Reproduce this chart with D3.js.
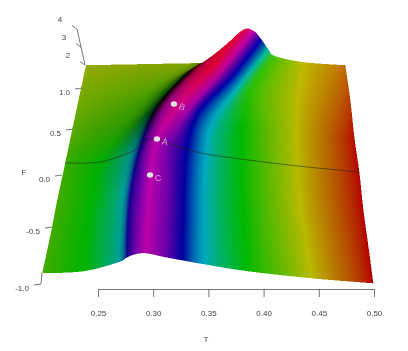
<!DOCTYPE html>
<html><head><meta charset="utf-8">
<script src="https://cdn.jsdelivr.net/npm/d3@7"></script>
<style>html,body{margin:0;padding:0;background:#fff}svg{display:block;filter:blur(.45px)}text{font-family:"Liberation Sans",Arial,sans-serif}</style>
</head><body><svg id="c" width="408" height="351"></svg>
<script>
// Surface: apparent T / F of each colour contour, front row to back row
const surfaceT = [
 [.1993,.2364,.2681,.2763,.2835,.2935,.3107,.3261,.3460,.3859,.4438,.4991],
 [.2065,.2391,.2699,.2772,.2853,.2953,.3116,.3270,.3460,.3822,.4384,.4946],
 [.2129,.2446,.2726,.2808,.2889,.2980,.3134,.3279,.3460,.3804,.4330,.4900],
 [.2201,.2518,.2799,.2889,.2962,.3034,.3152,.3306,.3478,.3795,.4312,.4864],
 [.2264,.2745,.2944,.3034,.3125,.3243,.3333,.3406,.3533,.3804,.4294,.4819],
 [.2328,.2971,.3207,.3297,.3388,.3533,.3623,.3714,.3786,.3877,.4312,.4783],
 [.2391,.3333,.3424,.3469,.3650,.3813,.3904,.3976,.4040,.4103,.4366,.4737]];
const surfaceF = [
 [-.859,-.839,-.749,-.698,-.668,-.658,-.698,-.729,-.769,-.839,-.910,-.960],
 [-.487,-.457,-.367,-.317,-.286,-.276,-.317,-.347,-.387,-.457,-.528,-.588],
 [-.126,-.106,-.015,.045,.095,.106,.065,.015,-.025,-.095,-.156,-.216],
 [.246,.256,.357,.437,.477,.487,.437,.387,.337,.286,.216,.156],
 [.578,.628,.739,.809,.839,.849,.799,.749,.658,.598,.568,.508],
 [.910,.980,1.080,1.141,1.171,1.221,1.181,1.121,1.040,.960,.920,.879],
 [1.231,1.251,1.251,1.271,1.432,1.588,1.578,1.492,1.392,1.322,1.261,1.231]];
const surfaceColors = [
 ["#46aa00","#00b400","#00a096","#14008c","#6e00aa","#be00aa","#6e00aa","#0000a0","#00aabe","#00b900","#b9b900","#b40000"],
 ["#46aa00","#00b400","#00a096","#14008c","#6e00aa","#be00aa","#6e00aa","#0000a0","#00aabe","#00b900","#b9b900","#b40000"],
 ["#46aa00","#00b400","#00a096","#14008c","#6e00aa","#be00aa","#6e00aa","#0000a0","#00aabe","#00b900","#b9b900","#b40000"],
 ["#3caa00","#00af00","#008c82","#0a0078","#780096","#be00aa","#6e00aa","#0000a0","#00aabe","#00b900","#b9b900","#b40000"],
 ["#5aaa00","#289600","#005014","#0a000a","#960082","#d70082","#a000aa","#0000a0","#00aabe","#00b900","#b9b900","#b40a00"],
 ["#78aa00","#50a000","#1e5a00","#000000","#aa003c","#e10032","#be0096","#0000aa","#00b4b4","#28be00","#beb900","#b93c00"],
 ["#96aa00","#82a000","#141400","#a00014","#dc001e","#dc003c","#c800aa","#0000aa","#00be96","#46c300","#beb900","#c36e00"]];
const sliceRow = 3;
const pointNames = ["A","B","C"];
const pointT = [.3034,.3188,.2971];
const pointF = [.487,.839,.126];
const tTicks = [.25,.30,.35,.40,.45,.50];
const fTicks = [-1,-.5,0,.5,1];
const fTickLabels = ["-1.0","-0.5","0.0","0.5","1.0"];
const fTickX = [41,52,62,73,82];
const fTickY = [284,227,175,129,88];
const zTicks = [2,3,4];
const zTickX = [85,81,77];
const zTickY = [65,47,29];

const W=408,H=351,SS=2;
const x=d3.scaleLinear().domain([.25,.5]).range([98,374]);
const y=d3.scaleLinear().domain([-1,1]).range([287,88]);
const fx=d3.scaleLinear().domain(fTicks).range(fTickX);
const fy=d3.scaleLinear().domain(fTicks).range(fTickY);
const zx=d3.scaleLinear().domain(zTicks).range(zTickX);
const zy=d3.scaleLinear().domain(zTicks).range(zTickY);
const svg=d3.select("#c");
const ink="#444";

function cr(a,b,c,d,t){return .5*(2*b+(c-a)*t+(2*a-5*b+4*c-d)*t*t+(3*b-a-3*c+d)*t*t*t);}
function spline(arr,u){
  const n=arr.length-1,i=Math.min(Math.floor(u),n-1),t=u-i;
  return cr(arr[Math.max(i-1,0)],arr[i],arr[i+1],arr[Math.min(i+2,n)],t);
}
function surf(M,r,c){
  const col=M.map(row=>spline(row,c));
  return spline(col,r);
}
const rgbRows=surfaceColors.map(row=>row.map(h=>{const q=d3.rgb(h);return [q.r,q.g,q.b];}));
function color(r,c){
  const nr=rgbRows.length-1,nc=rgbRows[0].length-1;
  const i=Math.min(Math.floor(r),nr-1),t=r-i,j=Math.min(Math.floor(c),nc-1),s=c-j;
  return [0,1,2].map(k=>{
    const a=rgbRows[i][j][k]*(1-s)+rgbRows[i][j+1][k]*s;
    const b=rgbRows[i+1][j][k]*(1-s)+rgbRows[i+1][j+1][k]*s;
    return a*(1-t)+b*t;
  });
}
const P=(r,c)=>[x(surf(surfaceT,r,c)),y(surf(surfaceF,r,c))];
const rs=10,cs=8,nr=surfaceT.length-1,nc=surfaceT[0].length-1;

// Gouraud-shaded surface, painted back to front into one image
const cv=document.createElement("canvas");cv.width=W*SS;cv.height=H*SS;
const g=cv.getContext("2d"),img=g.createImageData(W*SS,H*SS),px=img.data;
function tri(a,b,c){
  const minX=Math.max(0,Math.floor(Math.min(a.x,b.x,c.x))),maxX=Math.min(W*SS-1,Math.ceil(Math.max(a.x,b.x,c.x)));
  const minY=Math.max(0,Math.floor(Math.min(a.y,b.y,c.y))),maxY=Math.min(H*SS-1,Math.ceil(Math.max(a.y,b.y,c.y)));
  const d=(b.y-c.y)*(a.x-c.x)+(c.x-b.x)*(a.y-c.y);
  if(Math.abs(d)<1e-9)return;
  for(let Y=minY;Y<=maxY;Y++)for(let X=minX;X<=maxX;X++){
    const u=((b.y-c.y)*(X-c.x)+(c.x-b.x)*(Y-c.y))/d,v=((c.y-a.y)*(X-c.x)+(a.x-c.x)*(Y-c.y))/d,w=1-u-v;
    if(u<-.02||v<-.02||w<-.02)continue;
    const o=(Y*W*SS+X)*4;
    for(let k=0;k<3;k++)px[o+k]=u*a.col[k]+v*b.col[k]+w*c.col[k];
    px[o+3]=255;
  }
}
const V=(r,c)=>{const p=P(r,c);return {x:p[0]*SS,y:p[1]*SS,col:color(r,c)};};
for(let a=nr*rs-1;a>=0;a--)for(let b=0;b<nc*cs;b++){
  const r0=a/rs,r1=(a+1)/rs,c0=b/cs,c1=(b+1)/cs;
  const A=V(r0,c0),B=V(r0,c1),C=V(r1,c1),D=V(r1,c0);
  tri(A,B,C);tri(A,C,D);
}
g.putImageData(img,0,0);
svg.append("image").attr("x",0).attr("y",0).attr("width",W).attr("height",H).attr("href",cv.toDataURL("image/png"));

// slice line along the F row
const slice=d3.range(0,nc+.001,.1).map(c=>P(sliceRow,c));
svg.append("path").attr("d",d3.line()(slice)).attr("fill","none").attr("stroke","#1c2a14").attr("stroke-width",.7).attr("stroke-opacity",.8);

// marked points
const pts=pointNames.map((n,i)=>({n,t:pointT[i],f:pointF[i]}));
svg.append("g").selectAll("ellipse").data(pts).join("ellipse")
  .attr("cx",d=>x(d.t)).attr("cy",d=>y(d.f)).attr("rx",3.2).attr("ry",2.7).attr("fill","#e2e2e2");
svg.append("g").selectAll("text").data(pts).join("text")
  .attr("transform",d=>`translate(${x(d.t)+8},${y(d.f)+3.5}) rotate(${d.n==="B"?20:d.n==="A"?10:0})`)
  .attr("text-anchor","middle").attr("dominant-baseline","middle")
  .attr("font-size",9).attr("fill","#d9a0d9").text(d=>d.n);

// T axis
const ax=svg.append("g").attr("transform","translate(0,289)")
  .call(d3.axisBottom(x).tickValues(tTicks).tickFormat(d3.format(".2f")).tickSize(8).tickSizeOuter(0).tickPadding(13));
ax.selectAll("path,line").attr("stroke","#555").attr("stroke-width",.8);
ax.selectAll("text").attr("font-size",8).attr("fill",ink).attr("font-family","Liberation Sans");
svg.append("text").attr("x",206).attr("y",342).attr("text-anchor","middle").attr("font-size",8).attr("fill",ink).text("T");

// F axis ticks
const fg=svg.append("g").selectAll("g").data(fTicks).join("g");
fg.append("line").attr("x1",d=>fx(d)).attr("y1",d=>fy(d)).attr("x2",d=>fx(d)-7).attr("y2",d=>fy(d)+1).attr("stroke","#555").attr("stroke-width",.8);
fg.append("text").attr("x",d=>fx(d)-12).attr("y",d=>fy(d)+7).attr("text-anchor","end").attr("font-size",8).attr("fill",ink).text((d,i)=>fTickLabels[i]);
svg.append("path").attr("d",d3.line()([[fx(-1),fy(-1)],[x(surfaceT[0][0]),y(surfaceF[0][0])]])).attr("fill","none").attr("stroke","#555").attr("stroke-width",.8);
svg.append("text").attr("x",24).attr("y",175).attr("text-anchor","middle").attr("font-size",8).attr("fill",ink).text("F");

// height axis
svg.append("path").attr("d",d3.line()(zTicks.map(z=>[zx(z),zy(z)]))).attr("fill","none").attr("stroke","#555").attr("stroke-width",.8);
const zg=svg.append("g").selectAll("g").data(zTicks).join("g");
zg.append("line").attr("x1",d=>zx(d)).attr("y1",d=>zy(d)).attr("x2",d=>zx(d)-5).attr("y2",d=>zy(d)-3.5).attr("stroke","#555").attr("stroke-width",.8);
zg.append("text").attr("x",d=>zx(d)-17).attr("y",d=>zy(d)-7).attr("text-anchor","middle").attr("font-size",8).attr("fill",ink).text(d=>d);
</script></body></html>
